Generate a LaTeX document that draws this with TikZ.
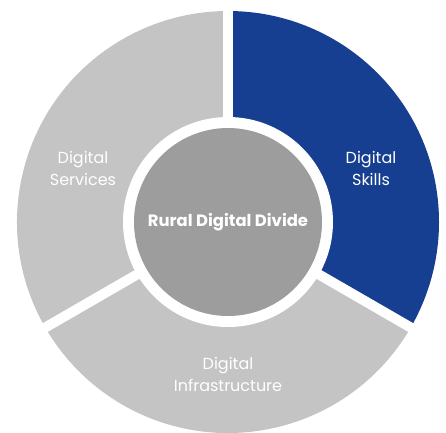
\documentclass[tikz,border=0pt]{standalone}
\usepackage{fontspec}
\setmainfont{Poppins}
\definecolor{skillblue}{HTML}{173F91}
\definecolor{ringgray}{HTML}{C4C4C4}
\definecolor{coregray}{HTML}{9D9D9D}
\begin{document}
\begin{tikzpicture}[x=1pt,y=1pt,
  sector/.style={draw=none},
  gapline/.style={white,line width=10pt},
  lbl/.style={text=white,font=\fontsize{16}{22}\selectfont,align=center},
  corelbl/.style={text=white,font=\bfseries\fontsize{16.4}{19}\selectfont}]
\useasboundingbox (-228,-210) rectangle (218,222);
% sectors
\fill[skillblue] (0,0) -- (90:211) arc[start angle=90,end angle=-30,radius=211] -- cycle;
\fill[ringgray] (0,0) -- (-30:211) arc[start angle=-30,end angle=-150,radius=211] -- cycle;
\fill[ringgray] (0,0) -- (210:211) arc[start angle=210,end angle=90,radius=211] -- cycle;
% gaps
\coordinate (c) at (0,0);
\coordinate (g1) at (90:230);
\coordinate (g2) at (-30:230);
\coordinate (g3) at (210:230);
\draw[gapline] (c) -- (g1);
\draw[gapline] (c) -- (g2);
\draw[gapline] (c) -- (g3);
\fill[white] (c) circle[radius=105];
\node[circle,fill=coregray,minimum size=188pt,inner sep=0pt] (core) at (c) {};
\node[corelbl] (t0) at (0,0) {Rural Digital Divide};
\node[lbl] (t1) at (143,54) {Digital\\Skills};
\node[lbl] (t2) at (-145,54) {Digital\\Services};
\node[lbl] (t3) at (0,-152) {Digital\\Infrastructure};
\end{tikzpicture}
\end{document}
